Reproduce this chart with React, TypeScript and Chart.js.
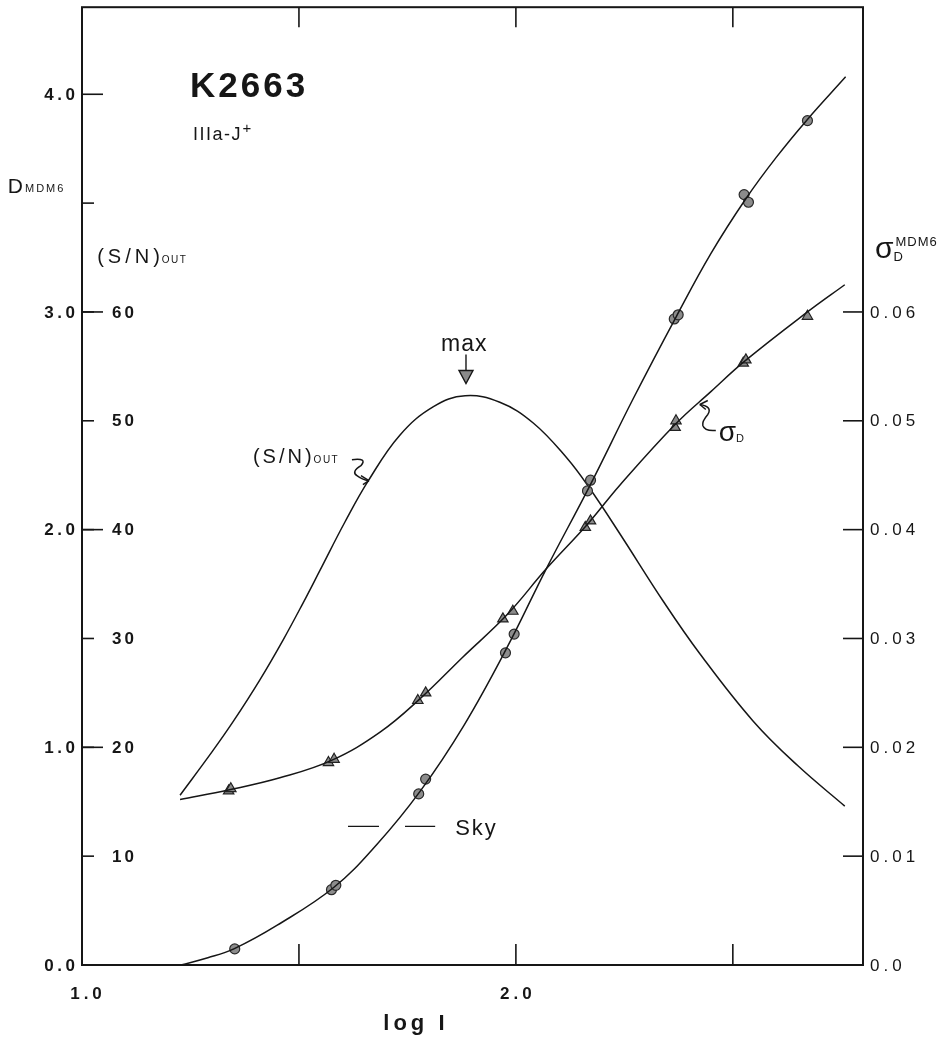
import React, { useEffect, useRef } from 'react';
import { Chart, registerables } from 'chart.js';

Chart.register(...registerables);

// ---------------- data (read from the plate) ----------------
// characteristic curve D_MDM6 vs log I (left axis)
const dCurveX = [1.228, 1.29, 1.35, 1.45, 1.58, 1.68, 1.78, 1.88, 1.98, 2.07, 2.17, 2.27, 2.37, 2.45, 2.53, 2.6, 2.67, 2.76];
const dCurveY = [0, 0.033, 0.074, 0.183, 0.356, 0.555, 0.8, 1.1, 1.46, 1.82, 2.2, 2.6, 2.98, 3.27, 3.52, 3.71, 3.88, 4.08];
const dPointX = [1.352, 1.575, 1.585, 1.776, 1.792, 1.976, 1.996, 2.165, 2.172, 2.365, 2.374, 2.526, 2.536, 2.672];
const dPointY = [0.074, 0.346, 0.366, 0.786, 0.854, 1.434, 1.52, 2.178, 2.227, 2.968, 2.987, 3.539, 3.504, 3.879];

// (S/N)out curve (inner left axis)
const snCurveX = [1.226, 1.3, 1.349, 1.41, 1.464, 1.51, 1.549, 1.606, 1.66, 1.733, 1.81, 1.883, 1.963, 2.04, 2.117, 2.17, 2.24, 2.34, 2.424, 2.547, 2.65, 2.758];
const snCurveY = [15.6, 19.6, 22.4, 26.2, 29.9, 33.3, 36.3, 40.7, 44.5, 48.7, 51.3, 52.3, 51.7, 49.8, 46.6, 43.8, 39.6, 33.4, 28.6, 22.4, 18.3, 14.6];

// sigma_D curve and points (right axis)
const sigCurveX = [1.226, 1.34, 1.456, 1.575, 1.687, 1.78, 1.878, 1.98, 2.07, 2.165, 2.24, 2.368, 2.45, 2.528, 2.672, 2.758];
const sigCurveY = [0.0152, 0.0161, 0.0172, 0.0188, 0.0214, 0.0245, 0.0283, 0.0322, 0.0364, 0.0405, 0.0441, 0.0497, 0.0527, 0.0555, 0.06, 0.0625];
const sigPointX = [1.338, 1.343, 1.568, 1.581, 1.774, 1.792, 1.97, 1.993, 2.16, 2.172, 2.367, 2.369, 2.524, 2.53, 2.672];
const sigPointY = [0.016, 0.0162, 0.0186, 0.0189, 0.0243, 0.025, 0.0318, 0.0325, 0.0402, 0.0408, 0.0494, 0.05, 0.0553, 0.0556, 0.0596];

// sky level marker
const skyX = [1.613, 1.814];
const skyY = [0.637, 0.637];

// axes
const xTickValues = [1.0, 1.5, 2.0, 2.5];
const xTickLabels = ['1.0', '', '2.0', ''];
const dTickValues = [0, 1, 2, 3, 4];
const dTickLabels = ['0.0', '1.0', '2.0', '3.0', '4.0'];
const dMinorTickValues = [3.5];
const snTickValues = [10, 20, 30, 40, 50, 60];
const snTickLabels = ['10', '20', '30', '40', '50', '60'];
const sigTickValues = [0, 0.01, 0.02, 0.03, 0.04, 0.05, 0.06];
const sigTickLabels = ['0.0', '0.01', '0.02', '0.03', '0.04', '0.05', '0.06'];

// ---------------- helpers ----------------
const INK = '#161616';
const SANS = '"Liberation Sans", Arial, Helvetica, sans-serif';

const toXY = (xs: number[], ys: number[]) => xs.map((x, i) => ({ x, y: ys[i] }));

function drawText(
  ctx: CanvasRenderingContext2D,
  s: string,
  x: number,
  y: number,
  size: number,
  opts: { weight?: string; align?: 'left' | 'center' | 'right'; baseline?: CanvasTextBaseline; spacing?: number } = {}
) {
  const { weight = 'normal', align = 'left', baseline = 'alphabetic', spacing = 0 } = opts;
  const c = ctx as any;
  ctx.font = `${weight} ${size}px ${SANS}`;
  ctx.textAlign = 'left';
  ctx.textBaseline = baseline;
  c.letterSpacing = '0px';
  const w = ctx.measureText(s).width + spacing * (s.length - 1);
  c.letterSpacing = `${spacing}px`;
  let sx = x;
  if (align === 'center') sx = x - w / 2;
  else if (align === 'right') sx = x - w;
  ctx.fillText(s, sx, y);
  c.letterSpacing = '0px';
  return w;
}

function seg(ctx: CanvasRenderingContext2D, x1: number, y1: number, x2: number, y2: number) {
  ctx.beginPath();
  ctx.moveTo(x1, y1);
  ctx.lineTo(x2, y2);
  ctx.stroke();
}

const platePlugin = {
  id: 'platePlugin',
  afterDatasetsDraw(chart: any) {
    const ctx: CanvasRenderingContext2D = chart.ctx;
    const { left, right, top, bottom } = chart.chartArea;
    const xs = chart.scales.x;
    const yD = chart.scales.yD;
    const ySN = chart.scales.ySN;
    const yS = chart.scales.ySig;
    const X = (v: number) => xs.getPixelForValue(v);
    const YD = (v: number) => yD.getPixelForValue(v);

    ctx.save();
    ctx.strokeStyle = INK;
    ctx.fillStyle = INK;
    ctx.lineCap = 'butt';

    // frame
    ctx.lineWidth = 2;
    ctx.strokeRect(left, top, right - left, bottom - top);

    ctx.lineWidth = 1.6;
    // x ticks (bottom and top, inward)
    xTickValues.forEach((v, i) => {
      const px = X(v);
      if (v > xs.min) {
        seg(ctx, px, bottom, px, bottom - 21);
        seg(ctx, px, top, px, top + 20);
      }
      if (xTickLabels[i]) {
        drawText(ctx, xTickLabels[i], px + (v === xs.min ? 4 : 0), bottom + 34, 17, { weight: 'bold', align: 'center', spacing: 4 });
      }
    });

    // D ticks and labels (outer left)
    dTickValues.forEach((v, i) => {
      const py = YD(v);
      if (v > 0) seg(ctx, left, py, left + 21, py);
      drawText(ctx, dTickLabels[i], left - 7, py + 1, 17, { weight: 'bold', align: 'right', baseline: 'middle', spacing: 3.5 });
    });
    dMinorTickValues.forEach((v) => {
      const py = YD(v);
      seg(ctx, left, py, left + 12, py);
    });

    // S/N ticks and labels (inner left)
    snTickValues.forEach((v, i) => {
      const py = ySN.getPixelForValue(v);
      seg(ctx, left, py, left + 12, py);
      drawText(ctx, snTickLabels[i], left + 30, py + 1, 17, { weight: 'bold', align: 'left', baseline: 'middle', spacing: 3 });
    });

    // sigma ticks and labels (right)
    sigTickValues.forEach((v, i) => {
      const py = yS.getPixelForValue(v);
      if (v > 0) seg(ctx, right, py, right - 20, py);
      drawText(ctx, sigTickLabels[i], right + 7, py + 1, 17, { weight: 'normal', align: 'left', baseline: 'middle', spacing: 4 });
    });

    // axis titles
    drawText(ctx, 'log I', X(1.765), YD(-0.297), 22, { weight: 'bold', align: 'center', spacing: 4 });

    let w = drawText(ctx, 'D', X(0.829), YD(3.545), 21, { spacing: 0 });
    drawText(ctx, 'MDM6', X(0.829) + w + 2, YD(3.545) - 1, 11, { spacing: 2 });

    w = drawText(ctx, '(S/N)', X(1.035), YD(3.224), 20, { spacing: 4 });
    drawText(ctx, 'OUT', X(1.035) + w + 2, YD(3.224), 10, { spacing: 1.5 });

    // right axis title sigma_D^MDM6
    const rx = right + 12;
    const rb = YD(3.247);
    w = drawText(ctx, 'σ', rx, rb, 30, {});
    drawText(ctx, 'D', rx + w, rb + 3, 13, {});
    drawText(ctx, 'MDM6', rx + w + 2, rb - 12, 13, { spacing: 1 });

    // plate name
    drawText(ctx, 'K2663', X(1.249), YD(3.988), 35, { weight: 'bold', spacing: 3 });
    w = drawText(ctx, 'IIIa-J', X(1.256), YD(3.792), 18, { spacing: 1.5 });
    drawText(ctx, '+', X(1.256) + w + 2, YD(3.792) - 7, 15, {});

    // max arrow
    drawText(ctx, 'max', X(1.88), YD(2.822), 23, { align: 'center', spacing: 1 });
    const ax = X(1.885);
    const ay1 = YD(2.804);
    const ay2 = YD(2.671);
    ctx.lineWidth = 1.4;
    seg(ctx, ax, ay1, ax, ay2 - 12);
    ctx.beginPath();
    ctx.moveTo(ax - 7, ay2 - 13);
    ctx.lineTo(ax + 7, ay2 - 13);
    ctx.lineTo(ax, ay2);
    ctx.closePath();
    ctx.fillStyle = '#8a8a8a';
    ctx.fill();
    ctx.stroke();
    ctx.fillStyle = INK;

    // (S/N)out label on the curve with squiggle arrow
    const lx = X(1.394);
    const lb = YD(2.305);
    w = drawText(ctx, '(S/N)', lx, lb, 20, { spacing: 3 });
    drawText(ctx, 'OUT', lx + w + 2, lb, 10, { spacing: 1.5 });
    const tx = X(1.659) + 1;
    const ty = ySN.getPixelForValue(44.5);
    ctx.lineWidth = 1.5;
    ctx.beginPath();
    ctx.moveTo(tx - 17, ty - 21);
    ctx.quadraticCurveTo(tx - 1, ty - 23, tx - 8, ty - 15);
    ctx.quadraticCurveTo(tx - 18, ty - 9, tx - 12, ty - 5);
    ctx.quadraticCurveTo(tx - 7, ty - 1, tx, ty);
    ctx.stroke();
    seg(ctx, tx, ty, tx - 8, ty - 5);
    seg(ctx, tx, ty, tx - 6, ty + 4);

    // sigma_D label with squiggle arrow
    const sx = X(2.417) + 3;
    const sy = yS.getPixelForValue(0.0515);
    ctx.beginPath();
    ctx.moveTo(sx, sy);
    ctx.quadraticCurveTo(sx + 13, sy + 2, sx + 8, sy + 10);
    ctx.quadraticCurveTo(sx + 2, sy + 17, sx + 3, sy + 21);
    ctx.quadraticCurveTo(sx + 5, sy + 27, sx + 16, sy + 26);
    ctx.stroke();
    seg(ctx, sx, sy, sx + 8, sy - 4);
    seg(ctx, sx, sy, sx + 6, sy + 5);
    w = drawText(ctx, 'σ', sx + 19, sy + 37, 28, {});
    drawText(ctx, 'D', sx + 19 + w, sy + 38, 11, {});

    // Sky label
    drawText(ctx, 'Sky', X(1.86), YD(0.599), 22, { spacing: 2 });

    ctx.restore();
  },
};

export default function App() {
  const ref = useRef<HTMLCanvasElement | null>(null);

  useEffect(() => {
    if (!ref.current) return;
    const curveStyle = {
      borderColor: INK,
      borderWidth: 1.5,
      pointRadius: 0,
      tension: 0.4,
      fill: false,
    };
    const chart = new Chart(ref.current, {
      type: 'line',
      data: {
        datasets: [
          { label: 'D curve', data: toXY(dCurveX, dCurveY), yAxisID: 'yD', ...curveStyle },
          {
            label: 'D points',
            data: toXY(dPointX, dPointY),
            yAxisID: 'yD',
            showLine: false,
            pointStyle: 'circle',
            pointRadius: 5,
            pointBackgroundColor: '#8c8c8c',
            pointBorderColor: '#2a2a2a',
            pointBorderWidth: 1.2,
          },
          { label: '(S/N)out', data: toXY(snCurveX, snCurveY), yAxisID: 'ySN', ...curveStyle },
          { label: 'sigma curve', data: toXY(sigCurveX, sigCurveY), yAxisID: 'ySig', ...curveStyle },
          {
            label: 'sigma points',
            data: toXY(sigPointX, sigPointY),
            yAxisID: 'ySig',
            showLine: false,
            pointStyle: 'triangle',
            pointRadius: 6,
            pointBackgroundColor: '#8a8a8a',
            pointBorderColor: '#222',
            pointBorderWidth: 1.2,
          },
          {
            label: 'Sky',
            data: toXY(skyX, skyY),
            yAxisID: 'yD',
            borderColor: INK,
            borderWidth: 1.4,
            borderDash: [31, 26],
            pointRadius: 0,
            fill: false,
          },
        ],
      },
      options: {
        responsive: false,
        animation: false,
        devicePixelRatio: 1,
        events: [],
        layout: { padding: { left: 82, right: 84, top: 3, bottom: 73 } },
        plugins: { legend: { display: false }, tooltip: { enabled: false }, title: { display: false } },
        scales: {
          x: { type: 'linear', min: 1.0, max: 2.8, display: false },
          yD: { type: 'linear', position: 'left', min: 0, max: 4.4, display: false },
          ySN: { type: 'linear', position: 'left', min: 0, max: 88, display: false },
          ySig: { type: 'linear', position: 'right', min: 0, max: 0.088, display: false },
        },
      } as any,
      plugins: [platePlugin],
    });
    return () => chart.destroy();
  }, []);

  return (
    <div style={{ position: 'absolute', left: 0, top: 0, width: 947, height: 1038, background: '#fff' }}>
      <canvas ref={ref} width={947} height={1038} style={{ display: 'block', width: 947, height: 1038 }} />
    </div>
  );
}
